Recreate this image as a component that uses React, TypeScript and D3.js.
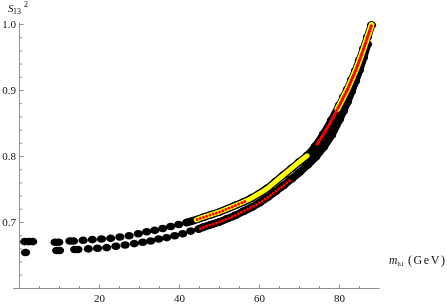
import React from 'react';
import * as d3 from 'd3';

type Pt = [number, number];

// black points, upper branch [m_h1, s13^2]
const upperBranch: Pt[] = [
  [1.3, 0.671], [2.3, 0.671], [3.3, 0.671],
  [8.9, 0.670], [9.8, 0.670],
  [12.6, 0.672], [13.5, 0.672],
  [15.9, 0.673], [18.2, 0.674], [20.5, 0.675], [22.8, 0.676], [25.1, 0.678],
  [27.4, 0.680], [29.7, 0.683], [31.8, 0.686], [33.8, 0.688], [35.8, 0.691],
  [37.8, 0.694], [39.8, 0.697], [41.8, 0.700], [43.5, 0.703],
  [46, 0.708], [48, 0.712], [50, 0.716], [52, 0.721], [54, 0.726], [56, 0.731],
  [58, 0.737], [60, 0.744], [62, 0.752], [64, 0.762], [66, 0.772], [68, 0.782],
  [70, 0.792], [72, 0.802], [74, 0.816], [76, 0.834], [78, 0.855], [80, 0.878],
  [81, 0.890], [82, 0.902], [83, 0.916], [84, 0.930], [85, 0.946], [86, 0.963],
  [87, 0.981], [88, 0.999],
];

// black points, lower branch
const lowerBranch: Pt[] = [
  [1.5, 0.6545],
  [9.3, 0.6575], [10.0, 0.6575],
  [13.8, 0.659], [14.6, 0.659],
  [17.2, 0.660], [19.5, 0.661], [21.8, 0.662], [24.1, 0.664], [26.4, 0.666],
  [28.7, 0.668], [30.8, 0.670], [32.8, 0.672], [34.8, 0.675], [36.8, 0.677],
  [38.8, 0.680], [40.8, 0.683], [42.8, 0.687], [44.8, 0.690],
  [46, 0.693], [48, 0.697], [50, 0.701], [52, 0.706], [54, 0.711], [56, 0.717],
  [58, 0.723], [60, 0.730], [62, 0.738], [64, 0.747], [66, 0.756], [68, 0.766],
  [70, 0.776], [72, 0.787], [74, 0.799], [76, 0.814], [78, 0.832], [80, 0.856],
  [81, 0.869], [82, 0.883], [83, 0.898], [84, 0.914], [85, 0.931], [86, 0.950],
  [87, 0.970],
];

// yellow points
const yellowMid: Pt[] = [
  [44.2, 0.704], [46, 0.708], [48, 0.712], [50, 0.716], [52, 0.721], [54, 0.726],
  [56, 0.731], [58, 0.737], [60, 0.744], [62, 0.752], [64, 0.762], [66, 0.772],
  [68, 0.782], [70, 0.792], [71.9, 0.801],
];
const yellowTop: Pt[] = [
  [79.5, 0.872], [80, 0.878], [81, 0.890], [82, 0.902], [83, 0.916], [84, 0.930],
  [85, 0.946], [86, 0.963], [87, 0.981], [88, 0.999],
];

// red points
const redUpperMid: Pt[] = [
  [44.4, 0.7045], [46, 0.708], [48, 0.712], [50, 0.716], [52, 0.721], [54, 0.726],
  [56, 0.731], [57, 0.734],
];
const redLowerMid: Pt[] = [
  [45.2, 0.691], [46, 0.693], [48, 0.697], [50, 0.701], [52, 0.706], [54, 0.711],
  [56, 0.717], [58, 0.723], [60, 0.730], [62, 0.738], [64, 0.747], [66, 0.756],
  [68, 0.766],
];
const redUpperTop: Pt[] = [
  [74.4, 0.819], [76, 0.834], [78, 0.855], [80, 0.878], [81, 0.890], [82, 0.902],
  [83, 0.916], [84, 0.930], [85, 0.946], [86, 0.963], [87, 0.981], [88, 0.999],
];

const xTickLabels = [20, 40, 60, 80];
const yTickLabels = [0.7, 0.8, 0.9, 1.0];

export default function App() {
  const width = 447;
  const height = 304;
  const x = d3.scaleLinear().domain([0, 90]).range([19.5, 379.5]);
  const y = d3.scaleLinear().domain([0.6, 1.0]).range([288.5, 24.5]);
  const line = d3.line<Pt>().x(d => x(d[0])).y(d => y(d[1])).curve(d3.curveCatmullRom);

  const axisColor = '#8f8f8f';
  const font = '"Liberation Serif", "DejaVu Serif", serif';
  const xMinor = d3.range(5, 90, 5).filter(v => v % 20 !== 0);
  const yMinor = d3.range(0.62, 1.001, 0.02).filter(v => Math.abs(v * 10 - Math.round(v * 10)) > 0.01);

  return (
    <div style={{ position: 'fixed', left: 0, top: 0 }}>
      <svg width={width} height={height} style={{ display: 'block' }}>
        {/* black band: dense part as a thick stroke, then every point */}
        <path d={line(upperBranch.filter(d => d[0] >= 40)) || ''} fill="none" stroke="#000" strokeWidth={7.6} strokeLinecap="round" strokeLinejoin="round" />
        <path d={line(lowerBranch.filter(d => d[0] >= 44)) || ''} fill="none" stroke="#000" strokeWidth={7.6} strokeLinecap="round" strokeLinejoin="round" />
        {[...upperBranch, ...lowerBranch].map((d, i) => (
          <ellipse key={i} cx={x(d[0])} cy={y(d[1])} rx={4.6} ry={3.8} fill="#000" />
        ))}

        {/* yellow */}
        <path d={line(yellowMid) || ''} fill="none" stroke="#ffff00" strokeWidth={5} strokeLinecap="round" />
        <path d={line(yellowTop) || ''} fill="none" stroke="#ffff00" strokeWidth={6} strokeLinecap="round" />

        {/* red dots */}
        <path d={line(redUpperMid) || ''} fill="none" stroke="#ff0000" strokeWidth={3} strokeLinecap="round" strokeDasharray="0 3.4" />
        <path d={line(redLowerMid) || ''} fill="none" stroke="#ff0000" strokeWidth={3} strokeLinecap="round" strokeDasharray="0 3.4" />
        <path d={line(redUpperTop) || ''} fill="none" stroke="#ff0000" strokeWidth={3.4} strokeLinecap="round" strokeDasharray="0 2.6" />

        {/* axes */}
        <line x1={13} x2={x(90)} y1={y(0.6)} y2={y(0.6)} stroke={axisColor} />
        <line x1={x(0)} x2={x(0)} y1={y(1.003)} y2={y(0.6)} stroke={axisColor} />
        {xTickLabels.map(v => (
          <line key={'xM' + v} x1={x(v)} x2={x(v)} y1={y(0.6)} y2={y(0.6) - 4} stroke={axisColor} />
        ))}
        {xMinor.map(v => (
          <line key={'xm' + v} x1={x(v)} x2={x(v)} y1={y(0.6)} y2={y(0.6) - 2.5} stroke={axisColor} />
        ))}
        {yTickLabels.map(v => (
          <line key={'yM' + v} x1={x(0)} x2={x(0) + 4} y1={y(v)} y2={y(v)} stroke={axisColor} />
        ))}
        {yMinor.map(v => (
          <line key={'ym' + v.toFixed(2)} x1={x(0)} x2={x(0) + 2.5} y1={y(v)} y2={y(v)} stroke={axisColor} />
        ))}

        {/* tick labels */}
        {xTickLabels.map(v => (
          <text key={'xl' + v} x={x(v)} y={302} textAnchor="middle" fontFamily={font} fontSize={11} fill="#111">{v}</text>
        ))}
        {yTickLabels.map(v => (
          <text key={'yl' + v} x={16} y={y(v) + 3.6} textAnchor="end" fontFamily={font} fontSize={11} fill="#111">{v.toFixed(1)}</text>
        ))}

        {/* axis labels */}
        <text x={389} y={264} fontFamily={font} fontSize={11.5} fontStyle="italic" fill="#111">m</text>
        <text x={397.5} y={265.5} fontFamily={font} fontSize={6.5} fill="#111">h1</text>
        <text x={408} y={264} fontFamily={font} fontSize={12} fill="#111" textLength={37} lengthAdjust="spacing">(GeV)</text>
        <text x={8} y={11.7} fontFamily={font} fontSize={11} fontStyle="italic" fill="#111">S</text>
        <text x={13} y={13.5} fontFamily={font} fontSize={8} fill="#111">13</text>
        <text x={24} y={6.5} fontFamily={font} fontSize={8} fill="#111">2</text>
      </svg>
    </div>
  );
}
